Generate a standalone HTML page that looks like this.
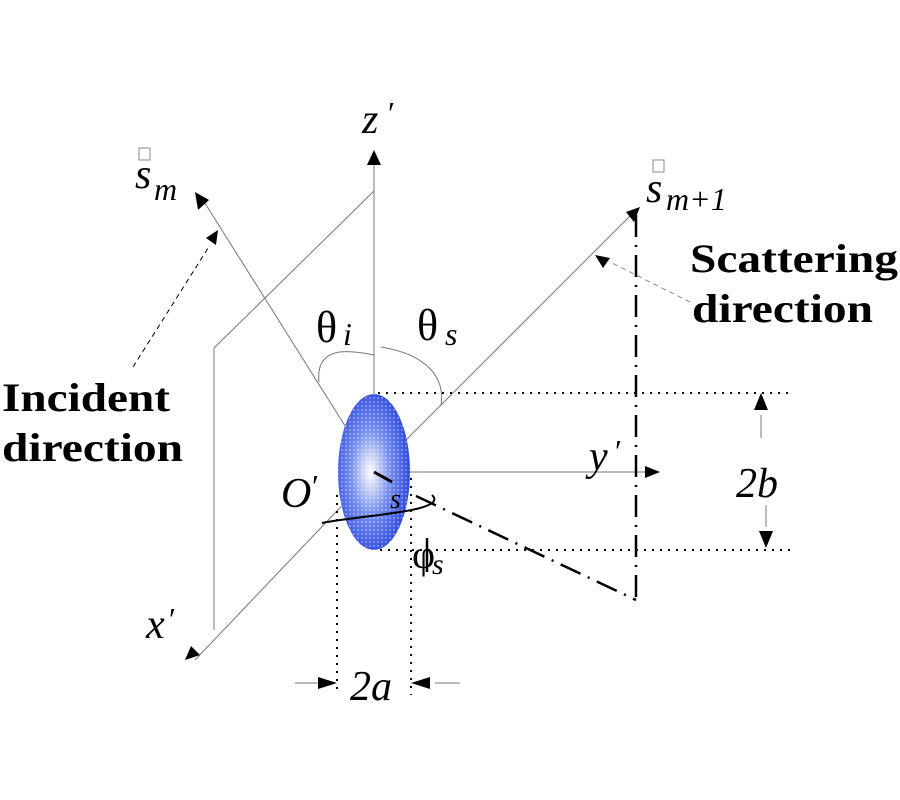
<!DOCTYPE html>
<html><head><meta charset="utf-8"><style>
html,body{margin:0;padding:0;background:#fff;}
svg{display:block;font-family:"Liberation Serif",serif;}
.it{font-style:italic;}
.b{font-weight:bold;font-size:40px;}
</style></head><body>
<svg width="900" height="800" viewBox="0 0 900 800">
<defs>
<radialGradient id="g" cx="0.45" cy="0.5" r="0.6">
<stop offset="0" stop-color="#ffffff"/>
<stop offset="0.45" stop-color="#7890ee"/>
<stop offset="1" stop-color="#1f3ddc"/>
</radialGradient>
<pattern id="p" width="4" height="4" patternUnits="userSpaceOnUse">
<circle cx="2" cy="2" r="0.9" fill="#fff" opacity="0.5"/>
</pattern>
</defs>
<g stroke="#777" stroke-width="1" fill="none">
<line x1="374" y1="472" x2="374" y2="162"/>
<polyline points="374,191 214,348 214,630"/>
<line x1="374" y1="472" x2="195" y2="660"/>
<line x1="374" y1="472" x2="203" y2="200"/>
<line x1="374" y1="472" x2="632" y2="214"/>
<line x1="374" y1="472" x2="645" y2="472"/>
<path d="M319,382 C315,345 350,350 374,355"/>
<path d="M381,347 C430,355 445,380 441,405"/>
<line x1="761" y1="415" x2="761" y2="438"/>
<line x1="766" y1="505" x2="766" y2="527"/>
<line x1="295" y1="683" x2="320" y2="683"/>
<line x1="435" y1="683" x2="460" y2="683"/>
</g>
<g stroke="#000" stroke-width="1" fill="none" stroke-dasharray="5,4">
<line x1="133" y1="367" x2="210" y2="245"/>
<line x1="690" y1="302" x2="610" y2="262" stroke="#888"/>
</g>
<ellipse cx="374" cy="472" rx="36" ry="78" fill="url(#g)"/>
<ellipse cx="374" cy="472" rx="36" ry="78" fill="url(#p)"/>
<g stroke="#000" stroke-width="2" fill="none" stroke-dasharray="2,6">
<line x1="378" y1="393" x2="790" y2="393"/>
<line x1="380" y1="550" x2="790" y2="550"/>
<line x1="337" y1="495" x2="337" y2="695"/>
<line x1="411" y1="478" x2="411" y2="695"/>
</g>
<line x1="374" y1="472" x2="392" y2="482" stroke="#000" stroke-width="3"/>
<path d="M322,523 C360,515 450,512 432,495" stroke="#000" stroke-width="2" fill="none"/>
<g stroke="#000" stroke-width="2.5" fill="none" stroke-dasharray="22,8,2,8">
<line x1="636" y1="215" x2="636" y2="605"/>
<line x1="416" y1="496" x2="636" y2="600"/>
</g>
<line x1="427" y1="538" x2="427" y2="572" stroke="#000" stroke-width="2.5"/>
<g fill="#000">
<polygon points="374,150 367,165 381,165"/>
<polygon points="195,192 209,200 198,210"/>
<polygon points="218,230 216,245 206,238"/>
<polygon points="640,207 626,212 634,222"/>
<polygon points="595,255 610,258 603,268"/>
<polygon points="185,660 191,646 200,655"/>
<polygon points="660,472 645,466 645,478"/>
<polygon points="761,393 754,410 768,410"/>
<polygon points="766,548 759,531 773,531"/>
<polygon points="337,683 318,677 318,689"/>
<polygon points="411,683 430,677 430,689"/>
</g>
<g font-size="42" class="it">
<text x="362" y="133">z</text><text x="386" y="124" font-size="32">′</text>
<text x="135" y="188">s</text><text x="154" y="200" font-size="32">m</text>
<text x="646" y="202">s</text><text x="666" y="210" font-size="32">m+1</text>
<text x="589" y="470">y</text><text x="613" y="462" font-size="32">′</text>
<text x="736" y="497">2b</text>
<text x="281" y="507">O</text><text x="310" y="497" font-size="32">′</text>
<text x="390" y="508" font-size="28">s</text>
<text x="146" y="638">x</text><text x="167" y="630" font-size="32">′</text>
<text x="350" y="700">2a</text>
</g>
<rect x="139" y="148" width="11" height="12" fill="none" stroke="#888" stroke-width="1"/>
<rect x="653" y="160" width="11" height="12" fill="none" stroke="#888" stroke-width="1"/>
<text x="316" y="342" font-size="44">θ</text><text x="343" y="345" font-size="32" class="it">i</text>
<text x="417" y="340" font-size="44">θ</text><text x="445" y="345" font-size="32" class="it">s</text>
<text x="412" y="568" font-size="40">φ</text><text x="432" y="574" font-size="30" class="it">s</text>
<text x="2" y="411" class="b" textLength="168" lengthAdjust="spacingAndGlyphs">Incident</text>
<text x="2" y="461" class="b" textLength="181" lengthAdjust="spacingAndGlyphs">direction</text>
<text x="690" y="272" class="b" textLength="208" lengthAdjust="spacingAndGlyphs">Scattering</text>
<text x="692" y="322" class="b" textLength="181" lengthAdjust="spacingAndGlyphs">direction</text>
</svg>
</body></html>
